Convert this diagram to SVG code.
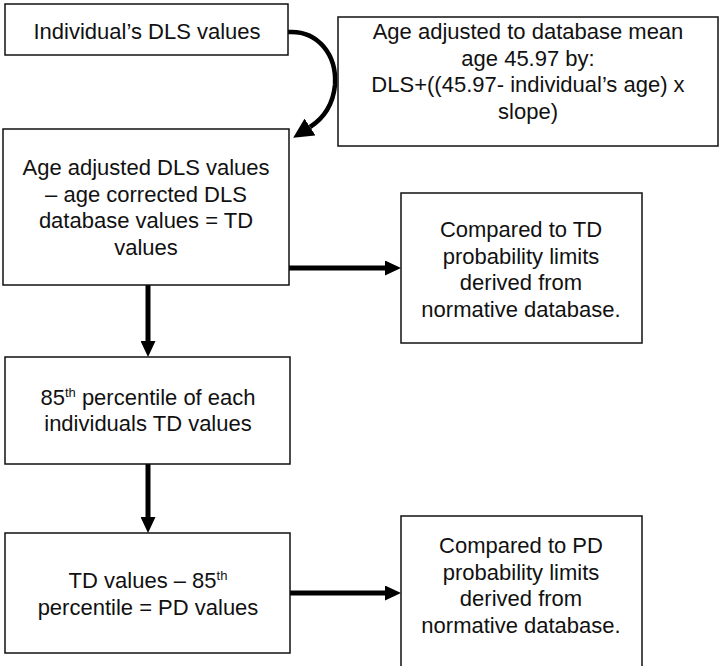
<svg xmlns="http://www.w3.org/2000/svg" width="720" height="666" viewBox="0 0 720 666">
<style>
.box{fill:#fff;stroke:#111;stroke-width:1.5}
.t{font-family:"Liberation Sans",Arial,sans-serif;font-size:22px;fill:#111;text-anchor:middle}
.sup{font-size:13px}
.conn{fill:none;stroke:#000;stroke-width:5}
.curve{fill:none;stroke:#000;stroke-width:4.5}
</style>
<defs>
<marker id="ah" viewBox="0 0 16 15" markerWidth="16" markerHeight="15" markerUnits="userSpaceOnUse" refX="0" refY="7.5" orient="auto">
<path d="M0,0 L16,7.5 L0,15 Z" fill="#000"/>
</marker>
<marker id="ahc" viewBox="0 0 20 20" markerWidth="20" markerHeight="20" markerUnits="userSpaceOnUse" refX="0" refY="10" orient="auto">
<path d="M0,0 L20,10 L0,20 Z" fill="#000"/>
</marker>
</defs>
<rect width="720" height="666" fill="#fff"/>
<g id="connectors">
<path class="curve" d="M288,32 C318,30 337,55 335,85 C333,105 324,118 310,127" marker-end="url(#ahc)"/>
<line class="conn" x1="289" y1="268" x2="385" y2="268" marker-end="url(#ah)"/>
<line class="conn" x1="148" y1="285" x2="148" y2="341" marker-end="url(#ah)"/>
<line class="conn" x1="148" y1="464" x2="148" y2="517" marker-end="url(#ah)"/>
<line class="conn" x1="290" y1="593" x2="385" y2="593" marker-end="url(#ah)"/>
</g>
<g id="n1">
<rect class="box" x="5" y="4" width="283" height="51"/>
<text class="t" x="147" y="39">Individual’s DLS values</text>
</g>
<g id="n2">
<rect class="box" x="338" y="17" width="380" height="129"/>
<text class="t" x="528" y="39">Age adjusted to database mean</text>
<text class="t" x="528" y="65.5">age 45.97 by:</text>
<text class="t" x="528" y="92">DLS+((45.97- individual’s age) x</text>
<text class="t" x="528" y="118.5">slope)</text>
</g>
<g id="n3">
<rect class="box" x="3" y="129" width="286" height="156"/>
<text class="t" x="146" y="175">Age adjusted DLS values</text>
<text class="t" x="146" y="201.5">– age corrected DLS</text>
<text class="t" x="146" y="228">database values = TD</text>
<text class="t" x="146" y="254.5">values</text>
</g>
<g id="n4">
<rect class="box" x="401" y="193" width="241" height="150"/>
<text class="t" x="521" y="237">Compared to TD</text>
<text class="t" x="521" y="264">probability limits</text>
<text class="t" x="521" y="290">derived from</text>
<text class="t" x="521" y="317">normative database.</text>
</g>
<g id="n5">
<rect class="box" x="5" y="357" width="285" height="107"/>
<text class="t" x="148" y="405">85<tspan class="sup" dy="-8">th</tspan><tspan dy="8"> percentile of each</tspan></text>
<text class="t" x="148" y="431">individuals TD values</text>
</g>
<g id="n6">
<rect class="box" x="5" y="533" width="285" height="120"/>
<text class="t" x="148" y="588">TD values – 85<tspan class="sup" dy="-8">th</tspan></text>
<text class="t" x="148" y="615">percentile = PD values</text>
</g>
<g id="n7">
<rect class="box" x="401" y="516" width="241" height="170"/>
<text class="t" x="521" y="553">Compared to PD</text>
<text class="t" x="521" y="580">probability limits</text>
<text class="t" x="521" y="606">derived from</text>
<text class="t" x="521" y="633">normative database.</text>
</g>
</svg>
